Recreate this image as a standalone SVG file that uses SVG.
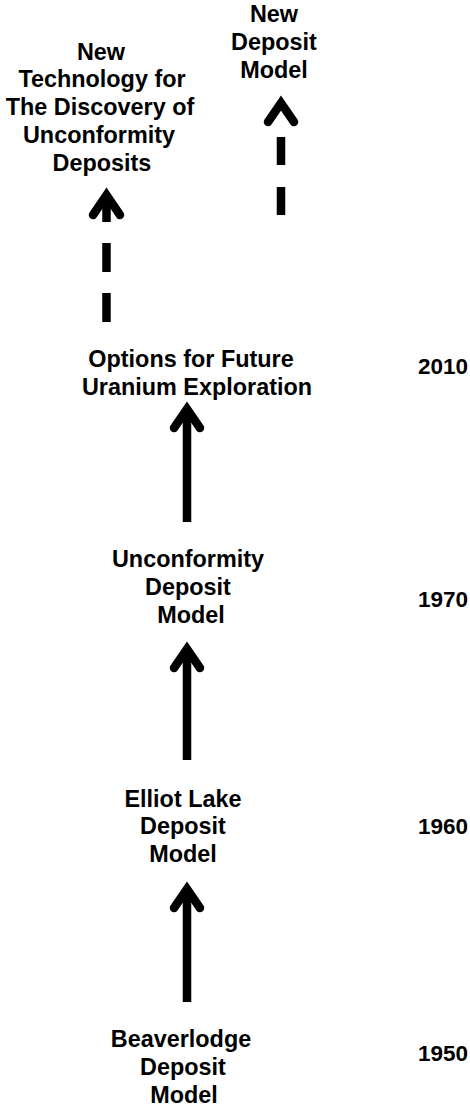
<svg xmlns="http://www.w3.org/2000/svg" width="470" height="1107" viewBox="0 0 470 1107">
<style>
text{font-family:"Liberation Sans",Arial,sans-serif;font-weight:bold;font-size:23.4px;fill:#000;text-anchor:middle}
text.yr{text-anchor:start;font-size:22.5px}
.shaft{stroke:#000;stroke-width:8.5;fill:none;stroke-linecap:butt}
.head{stroke:#000;stroke-width:8.5;fill:none;stroke-linecap:round;stroke-linejoin:miter;stroke-miterlimit:10}
</style>
<rect width="470" height="1107" fill="#fff"/>
<g id="node-new-tech">
<text x="101" y="60">New</text>
<text x="102" y="87">Technology for</text>
<text x="100" y="115">The Discovery of</text>
<text x="99" y="143">Unconformity</text>
<text x="102" y="171">Deposits</text>
</g>
<g id="node-new-model">
<text x="274" y="22">New</text>
<text x="274" y="50">Deposit</text>
<text x="274" y="78">Model</text>
</g>
<g id="node-options">
<text x="191" y="367">Options for Future</text>
<text x="197" y="395">Uranium Exploration</text>
<text class="yr" x="418" y="374">2010</text>
</g>
<g id="node-unconformity">
<text x="188" y="567">Unconformity</text>
<text x="188" y="595">Deposit</text>
<text x="191" y="623">Model</text>
<text class="yr" x="418" y="607">1970</text>
</g>
<g id="node-elliot">
<text x="183" y="807">Elliot Lake</text>
<text x="183" y="834">Deposit</text>
<text x="183" y="862">Model</text>
<text class="yr" x="418" y="834">1960</text>
</g>
<g id="node-beaverlodge">
<text x="181" y="1047">Beaverlodge</text>
<text x="183" y="1075">Deposit</text>
<text x="184" y="1103">Model</text>
<text class="yr" x="418" y="1061">1950</text>
</g>
<g id="connectors">
<line class="shaft" x1="106.5" y1="322" x2="106.5" y2="293"/>
<line class="shaft" x1="106.5" y1="272" x2="106.5" y2="243"/>
<line class="shaft" x1="106.5" y1="222" x2="106.5" y2="198"/>
<path class="head" d="M93,215 L106.5,195 L120,215"/>
<line class="shaft" x1="281" y1="215" x2="281" y2="187"/>
<line class="shaft" x1="281" y1="165" x2="281" y2="137"/>
<path class="head" d="M268,122 L281,103 L294,122"/>
<line class="shaft" x1="187" y1="522" x2="187" y2="412"/>
<path class="head" d="M174,428 L187,409 L200,428"/>
<line class="shaft" x1="187" y1="760" x2="187" y2="650"/>
<path class="head" d="M174,668 L187,649 L200,668"/>
<line class="shaft" x1="187" y1="1002" x2="187" y2="890"/>
<path class="head" d="M174,908 L187,889 L200,908"/>
</g>
</svg>
